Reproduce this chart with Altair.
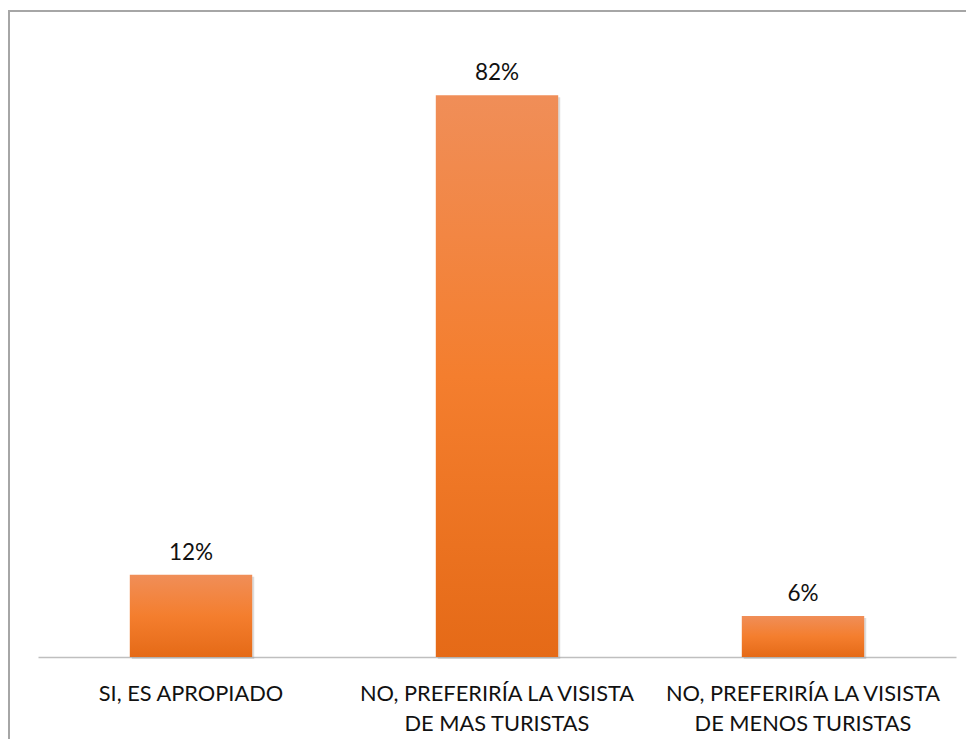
import altair as alt
import pandas as pd

categories = ["SI, ES APROPIADO",
              "NO, PREFERIRÍA LA VISISTA\nDE MAS TURISTAS",
              "NO, PREFERIRÍA LA VISISTA\nDE MENOS TURISTAS"]
values = [12, 82, 6]
labels = ["12%", "82%", "6%"]

df = pd.DataFrame({"cat": categories, "val": values, "lab": labels})

FONT = "Lato"
W, H = 918, 616.5

x = alt.X("cat:N", sort=categories, title=None,
          scale=alt.Scale(paddingInner=0.6, paddingOuter=0.3),
          axis=alt.Axis(labelAngle=0, labelFont=FONT, labelFontSize=21.8,
                        labelColor="#111111", labelExpr="split(datum.label, '\\n')",
                        labelLineHeight=30, labelPadding=26, ticks=False,
                        domainColor="#bfbfbf", domainWidth=1.5, labelLimit=400))
y = alt.Y("val:Q", title=None, scale=alt.Scale(domain=[0, 90], nice=False), axis=None)

grad = alt.Gradient(gradient="linear", x1=0, x2=0, y1=0, y2=1,
                    stops=[alt.GradientStop(color="#F08E58", offset=0),
                           alt.GradientStop(color="#F47E2E", offset=0.5),
                           alt.GradientStop(color="#E56A17", offset=1)])

base = alt.Chart(df)

shadow = base.mark_bar(color="#9a9a9a", opacity=0.35, xOffset=2, yOffset=2).encode(x=x, y=y)
bars = base.mark_bar(color=grad).encode(x=x, y=y)
text = base.mark_text(font=FONT, fontSize=22.5, color="#111111", dy=-15,
                      baseline="alphabetic").encode(x=x, y=y, text="lab:N")

frame = alt.Chart(pd.DataFrame({"k": [0]})).mark_rect(
    fill=None, stroke="#a6a6a6", strokeWidth=2, clip=False).encode(
    x=alt.value(-29), x2=alt.value(1200), y=alt.value(-29.5), y2=alt.value(1200))

chart = alt.layer(frame, shadow, bars, text).properties(
    width=W, height=H,
    autosize=alt.AutoSizeParams(type="none"),
    padding={"left": 30, "top": 32.5, "right": 10, "bottom": 82},
).configure_view(stroke=None)

chart.save("out.html", embed_options={"renderer": "svg", "actions": False})
